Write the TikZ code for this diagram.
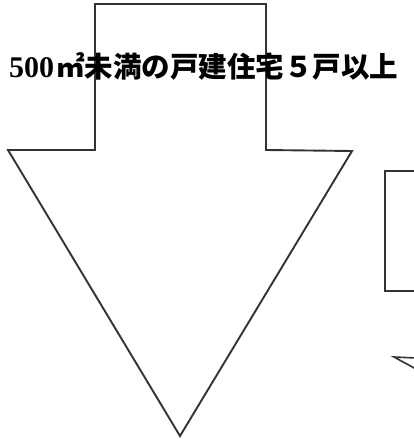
\documentclass[tikz,border=0pt]{standalone}
\usepackage{fontspec}
\setmainfont{Liberation Serif}
\newfontfamily\cjk{Noto Sans CJK JP}
\begin{document}
\begin{tikzpicture}[x=1pt,y=-1pt,
  shape line/.style={line width=1.9pt,draw=black!80,line join=miter},
  label text/.style={inner sep=0pt,anchor=west,font=\fontsize{30}{30}\selectfont\bfseries}]
\useasboundingbox (0,0) rectangle (414,439);
\fill[white] (0,0) rectangle (414,439);
% big down arrow
\draw[shape line] (95,4) -- (266,4) -- (266,150) -- (352,151) -- (180,436) -- (8,150) -- (95,150) -- cycle;
% right box (clipped)
\draw[shape line,line width=1.6pt] (416,171) -- (385,171) -- (385,291) -- (416,291);
% fragment of another arrow head
\draw[shape line,line width=1.6pt] (416,358) -- (394,357) -- (416,369);
% label
\node[label text] (lbl) at (9,66) {500\hspace{2pt}{\cjk\bfseries\fontsize{28.5}{30}\selectfont ㎡未満の戸建住宅５戸以上}};
\end{tikzpicture}
\end{document}
